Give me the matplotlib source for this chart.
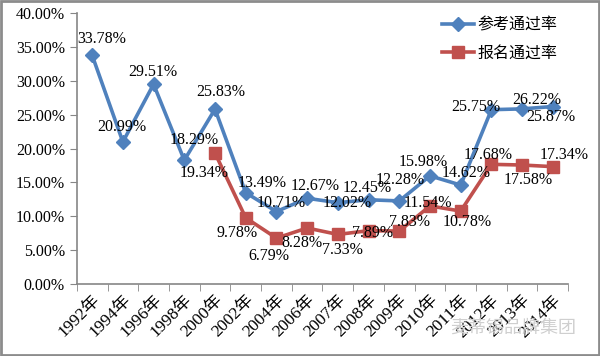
import matplotlib
matplotlib.use("Agg")
import matplotlib.pyplot as plt
import matplotlib.transforms as mtransforms
from matplotlib.patches import Rectangle
from matplotlib.ticker import FuncFormatter, FixedLocator

plt.rcParams['font.family'] = ['Liberation Serif', 'Noto Sans CJK SC']

years = ['1992年', '1994年', '1996年', '1998年', '2000年', '2002年', '2004年', '2006年',
         '2007年', '2008年', '2009年', '2010年', '2011年', '2012年', '2013年', '2014年']
ref_rate = [33.78, 20.99, 29.51, 18.29, 25.83, 13.49, 10.71, 12.67,
            12.02, 12.45, 12.28, 15.98, 14.62, 25.75, 25.87, 26.22]
apply_years = years[4:]
apply_rate = [19.34, 9.78, 6.79, 8.28, 7.33, 7.89, 7.83, 11.54, 10.78, 17.68, 17.58, 17.34]

# label offsets in pixels (dx, dy)
ref_off = [(10, 16), (-1, 15), (-1, 12), (10, 20), (6, 17), (16, 10), (5, 9), (8, 12),
           (9, 0), (-1, 12), (1, 21), (-7, 14), (5, 12), (-16, 3), (29, -8), (-16, 7)]
apply_off = [(-11, -20), (-9, -15), (-8, -18), (-5, -15), (5, -16), (4, -2),
             (10, 9), (-2, 3), (6, -11), (-3, 9), (6, -15), (11, 12)]

blue = '#4F81BD'
red = '#C0504D'

fig = plt.figure(figsize=(6, 3.56), dpi=100)
ax = fig.add_axes([0.128, 0.202, 0.819, 0.761])

x_ref = [i + 0.5 for i in range(len(years))]
x_app = [years.index(y) + 0.5 for y in apply_years]

ax.plot(x_ref, ref_rate, color=blue, lw=2.6, marker='D', ms=7.5, label='参考通过率', zorder=3)
ax.plot(x_app, apply_rate, color=red, lw=2.6, marker='s', ms=9, label='报名通过率', zorder=3)

for x, v, (dx, dy) in zip(x_ref, ref_rate, ref_off):
    ax.annotate(f'{v:.2f}%', (x, v), xytext=(dx, dy), textcoords='offset pixels',
                ha='center', va='center', fontsize=11.5, zorder=4)
for x, v, (dx, dy) in zip(x_app, apply_rate, apply_off):
    ax.annotate(f'{v:.2f}%', (x, v), xytext=(dx, dy), textcoords='offset pixels',
                ha='center', va='center', fontsize=11.5, zorder=4)

ax.set_xlim(0, len(years))
ax.set_ylim(0, 40)
ax.set_yticks(range(0, 41, 5))
ax.yaxis.set_major_formatter(FuncFormatter(lambda v, p: f'{v:.2f}%'))
ax.set_xticks(x_ref)
ax.set_xticklabels(years, rotation=45, ha='right', va='top', rotation_mode='anchor', fontsize=12.5)
shift = mtransforms.ScaledTranslation(-3 / 100, -8 / 100, fig.dpi_scale_trans)
for lab in ax.get_xticklabels():
    lab.set_transform(lab.get_transform() + shift)
ax.xaxis.set_minor_locator(FixedLocator(range(len(years) + 1)))
ax.tick_params(axis='x', which='major', length=0, pad=6)
ax.tick_params(axis='x', which='minor', length=5, color='#868686')
ax.tick_params(axis='y', length=5, color='#868686', labelsize=11.5)

for s in ['top', 'right']:
    ax.spines[s].set_visible(False)
for s in ['left', 'bottom']:
    ax.spines[s].set_color('#868686')
    ax.spines[s].set_linewidth(1.2)

leg = ax.legend(loc='upper right', bbox_to_anchor=(0.985, 0.995), frameon=False,
                fontsize=11.5, handlelength=2.0, handletextpad=0.25, labelspacing=0.75,
                borderpad=0.2, borderaxespad=0.0)

fig.text(0.96, 0.08, '麦蒂锡品牌集团', color='#cfcfcf', fontsize=13, ha='right', va='center',
         family=['Noto Sans CJK SC'])

fig.patches.append(Rectangle((0.002, 0.003), 0.996, 0.994, transform=fig.transFigure,
                             fill=False, edgecolor='#8c8c8c', lw=2))

fig.savefig('out.png', dpi=100)
